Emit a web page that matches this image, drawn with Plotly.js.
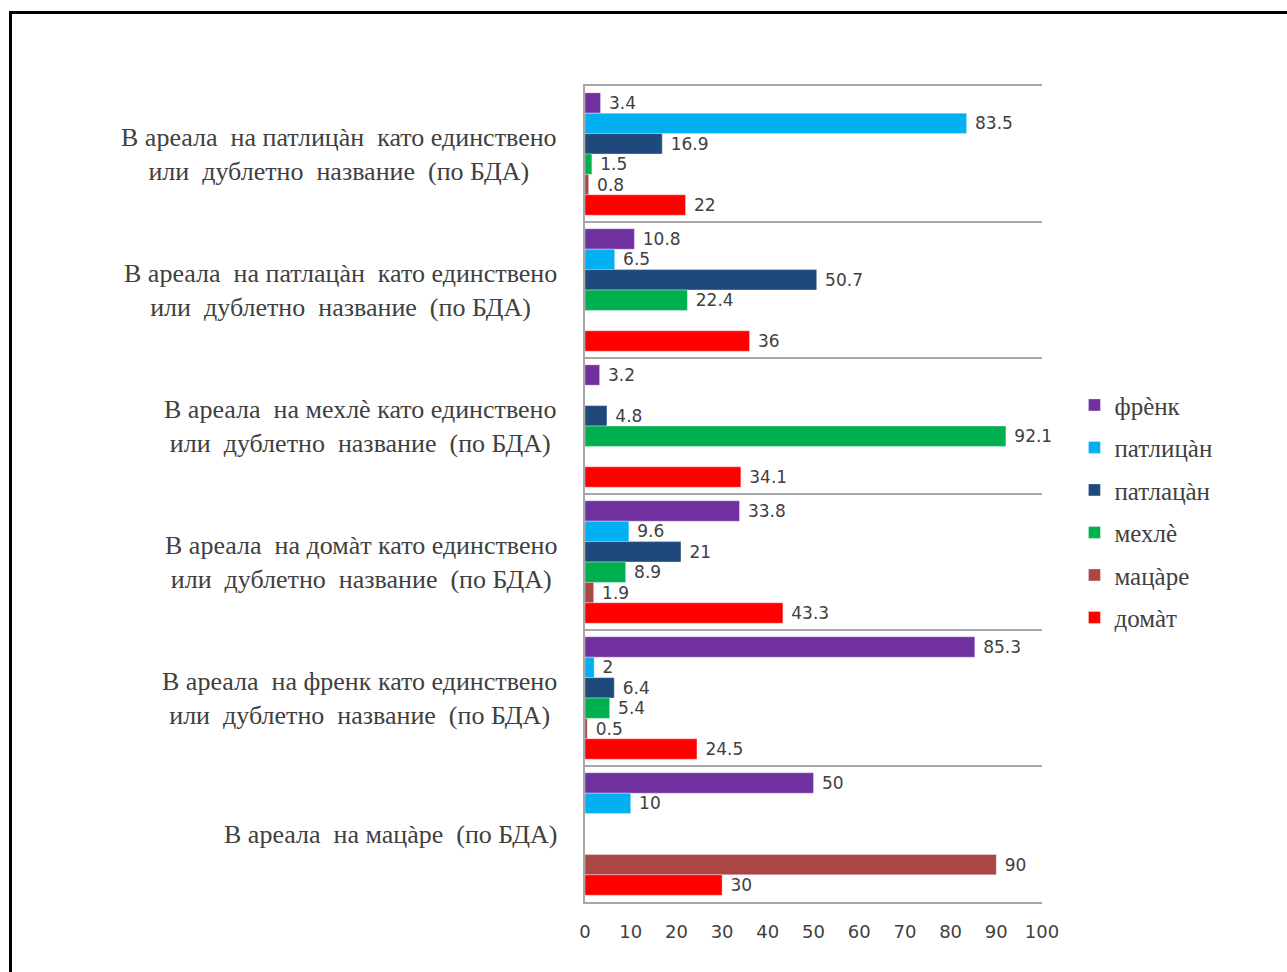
<!DOCTYPE html>
<html>
<head>
<meta charset="utf-8">
<script src="https://cdn.plot.ly/plotly-3.0.1.min.js"></script>
<style>
html,body{margin:0;padding:0;background:#fff;overflow:hidden;}
#chart{width:1287px;height:972px;}
#frame{position:absolute;left:9px;top:11px;width:1300px;height:1000px;border:3px solid #000;pointer-events:none;box-sizing:border-box;}
</style>
</head>
<body>
<div id="chart"></div>
<div id="frame"></div>
<script>
const categories = [
  "В ареала\u00a0 на патлицàн\u00a0 като единствено<br>или\u00a0 дублетно\u00a0 название\u00a0 (по БДА)",
  "В ареала\u00a0 на патлацàн\u00a0 като единствено<br>или\u00a0 дублетно\u00a0 название\u00a0 (по БДА)",
  "В ареала\u00a0 на мехлѐ като единствено<br>или\u00a0 дублетно\u00a0 название\u00a0 (по БДА)",
  "В ареала\u00a0 на домàт като единствено<br>или\u00a0 дублетно\u00a0 название\u00a0 (по БДА)",
  "В ареала\u00a0 на френк като единствено<br>или\u00a0 дублетно\u00a0 название\u00a0 (по БДА)",
  "В ареала\u00a0 на мацàре\u00a0 (по БДА)"
];
const seriesNames = ["фрѐнк", "патлицàн", "патлацàн", "мехлѐ", "мацàре", "домàт"];
const seriesColors = ["#7030A0", "#00B0F0", "#1F497D", "#00B050", "#AA4744", "#FF0000"];
const frenk    = [3.4, 10.8, 3.2, 33.8, 85.3, 50];
const patlican = [83.5, 6.5, null, 9.6, 2, 10];
const patlacan = [16.9, 50.7, 4.8, 21, 6.4, null];
const mehle    = [1.5, 22.4, 92.1, 8.9, 5.4, null];
const macare   = [0.8, null, null, 1.9, 0.5, 90];
const domat    = [22, 36, 34.1, 43.3, 24.5, 30];
const seriesValues = [frenk, patlican, patlacan, mehle, macare, domat];
const xTicks = [0, 10, 20, 30, 40, 50, 60, 70, 80, 90, 100];

const catIdx = categories.map((c, i) => i);

const traces = seriesNames.map((name, s) => ({
  type: 'bar',
  orientation: 'h',
  name: name,
  legendgroup: 'g' + s,
  y: catIdx,
  x: seriesValues[s],
  marker: {color: seriesColors[s], line: {color: 'rgba(255,255,255,0.35)', width: 1}},
  text: seriesValues[s].map(v => v === null ? '' : '\u00a0' + String(v)),
  textposition: 'outside',
  cliponaxis: false,
  textfont: {family: 'DejaVu Sans, sans-serif', size: 17, color: '#404040'},
  hoverinfo: 'x+name'
}));

const annotations = categories.map((c, i) => ({
  xref: 'paper', yref: 'y',
  x: -0.056, y: i,
  xanchor: 'right', yanchor: 'middle',
  align: 'center',
  text: c,
  showarrow: false,
  font: {family: 'Liberation Serif, Times New Roman, serif', size: 26, color: '#404040'}
}));

const layout = {
  width: 1287, height: 972,
  margin: {l: 585, r: 245, t: 86, b: 70, pad: 0},
  paper_bgcolor: '#fff', plot_bgcolor: '#fff',
  barmode: 'group',
  bargap: 0.1,
  bargroupgap: 0,
  showlegend: true,
  legend: {
    x: 1.071, xanchor: 'left', y: 0.479, yanchor: 'middle',
    font: {family: 'Liberation Serif, Times New Roman, serif', size: 25, color: '#404040'},
    tracegroupgap: 7,
    itemwidth: 30,
    bgcolor: 'rgba(0,0,0,0)'
  },
  xaxis: {
    range: [0, 100],
    tickvals: xTicks,
    ticktext: xTicks.map(String),
    showgrid: false,
    zeroline: false,
    showline: true, mirror: true, linecolor: '#A6A6A6', linewidth: 2,
    ticks: '', ticklabelstandoff: 12,
    tickfont: {family: 'DejaVu Sans, sans-serif', size: 18, color: '#404040'},
    fixedrange: true
  },
  yaxis: {
    type: 'linear',
    range: [5.5, -0.5],
    tickvals: [0.5, 1.5, 2.5, 3.5, 4.5],
    showticklabels: false,
    showgrid: true, gridcolor: '#A6A6A6', gridwidth: 2,
    zeroline: false,
    showline: true, linecolor: '#A6A6A6', linewidth: 2,
    ticks: '',
    fixedrange: true
  },
  annotations: annotations
};

Plotly.newPlot('chart', traces, layout, {displayModeBar: false, staticPlot: true});
</script>
</body>
</html>
